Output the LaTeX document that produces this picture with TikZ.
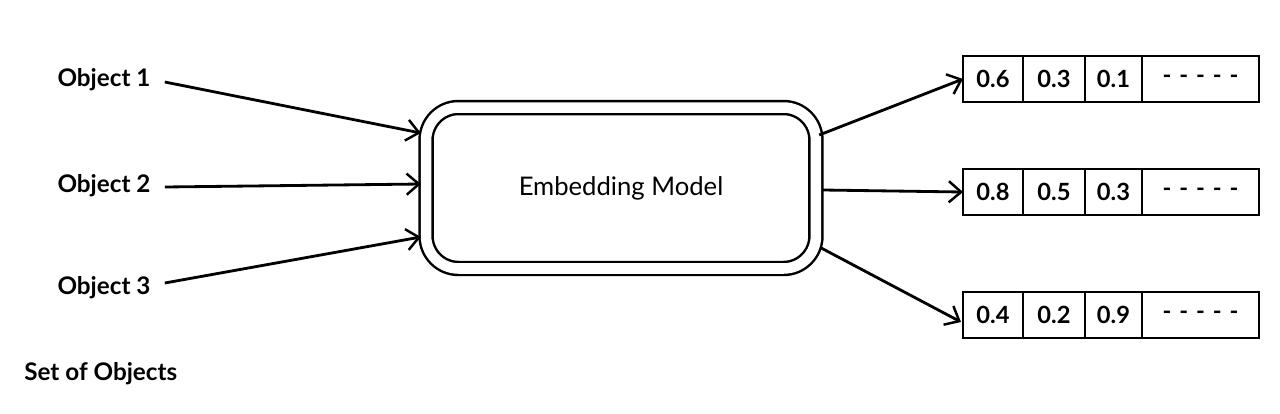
\documentclass[tikz,border=0pt]{standalone}
\usepackage{fontspec}
\setmainfont{Lato}
\usetikzlibrary{positioning, calc, arrows.meta}
\tikzset{
  arr/.style={line width=1.6pt, -{Straight Barb[length=7pt, width=12pt, line width=1.4pt]}},
  label/.style={font=\fontsize{13.8}{16}\selectfont\bfseries, inner sep=0pt},
  cell/.style={draw, line width=1.3pt, minimum height=0.92cm, inner sep=0pt, outer sep=0pt,
    font=\fontsize{13.5}{16}\selectfont\bfseries}
}
\begin{document}
\begin{tikzpicture}[x=0.02cm, y=-0.02cm]
  \useasboundingbox (0,0) rectangle (1280,413);
  \node[label] (obj1) at (104,80) {Object 1};
  \node[label] (obj2) at (104,186) {Object 2};
  \node[label] (obj3) at (104,288) {Object 3};
  \node[label, anchor=west] (set) at (24,374) {Set of Objects};
  \node[draw, double, line width=1.4pt, double distance=6pt, rounded corners=0.65cm,
    minimum width=7.8cm, minimum height=3.22cm,
    font=\fontsize{14.6}{17}\selectfont] (model) at (621,188) {Embedding Model};

  % vectors
  \foreach \r/\ya/\yb/\yc/\yy in {1/0.6/0.3/0.1/79, 2/0.8/0.5/0.3/192, 3/0.4/0.2/0.9/315}{
    \node[cell, minimum width=1.2cm, anchor=west] (v\r a) at (963,\yy) {\ya};
    \node[cell, minimum width=1.24cm, right=0pt of v\r a] (v\r b) {\yb};
    \node[cell, minimum width=1.14cm, right=0pt of v\r b] (v\r c) {\yc};
    \node[cell, minimum width=2.34cm, right=0pt of v\r c] (v\r d) {-\,\,-\,\,-\,\,-\,\,-};
  }

  \draw[arr] ($(obj1.east)+(14,2)$) -- ($(model.west)+(-4,-55)$);
  \draw[arr] ($(obj2.east)+(14,1)$) -- ($(model.west)+(-4,-4)$);
  \draw[arr] ($(obj3.east)+(14,-5)$) -- ($(model.west)+(-4,49)$);
  \draw[arr] ($(model.east)+(2,-53)$) -- (v1a.west);
  \draw[arr] ($(model.east)+(6,2)$) -- (v2a.west);
  \draw[arr] ($(model.east)+(4,60)$) -- ($(v3a.west)+(-2,7)$);
\end{tikzpicture}
\end{document}
